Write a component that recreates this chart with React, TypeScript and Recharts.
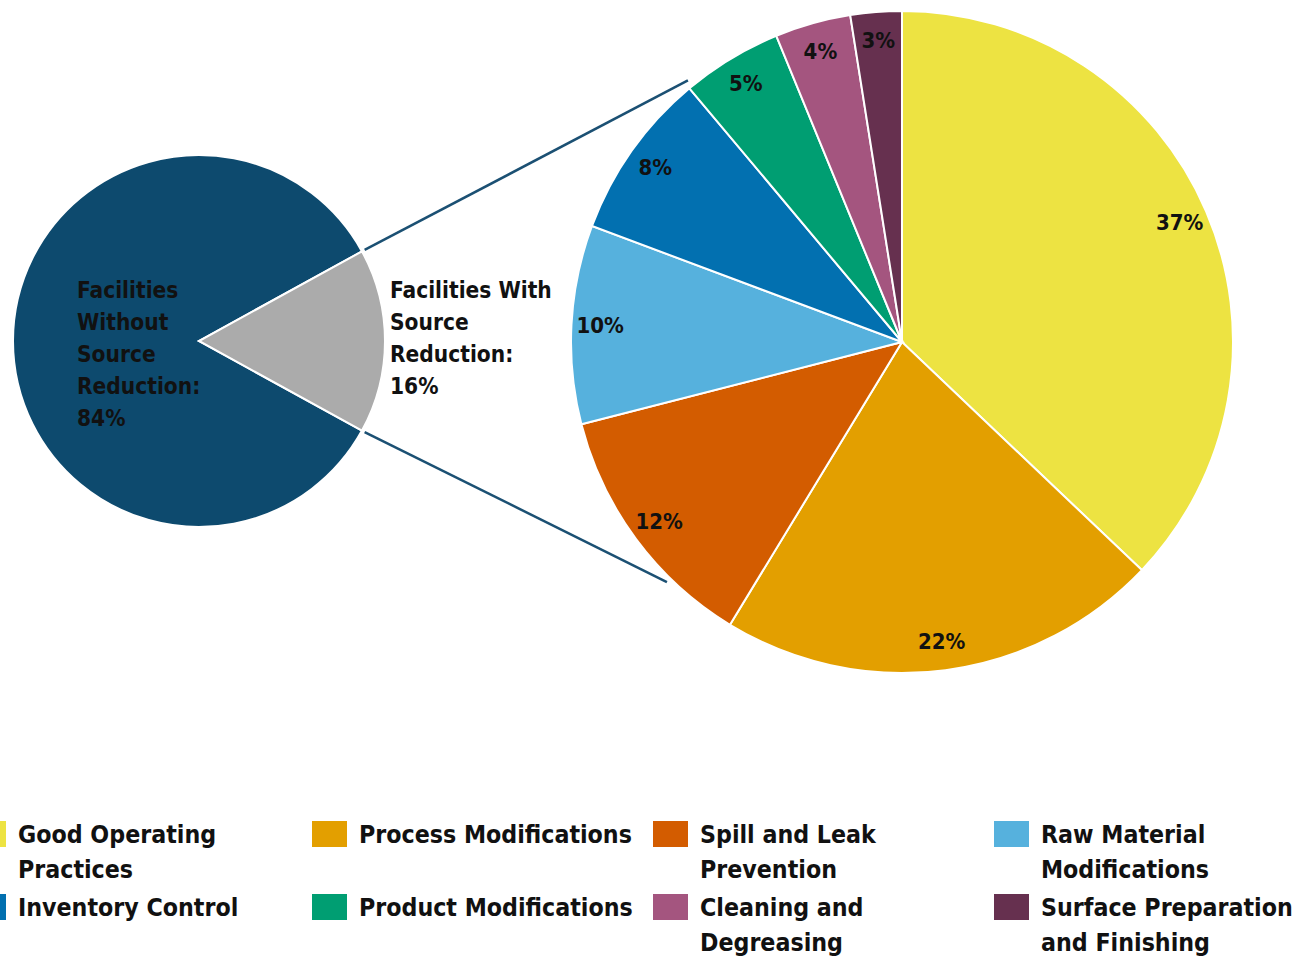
import { PieChart, Pie, Cell, Legend, Customized } from 'recharts';

// --- data ---
const overviewNames = ['Facilities Without Source Reduction', 'Facilities With Source Reduction'];
const overviewLabelLines = [
  ['Facilities', 'Without', 'Source', 'Reduction:'],
  ['Facilities With', 'Source', 'Reduction:'],
];
const overviewShares = [84, 16];
const overviewColors = ['#0D4A6E', '#ABABAB'];

const categories = [
  'Good Operating Practices',
  'Process Modifications',
  'Spill and Leak Prevention',
  'Raw Material Modifications',
  'Inventory Control',
  'Product Modifications',
  'Cleaning and Degreasing',
  'Surface Preparation and Finishing',
];
// slice sizes; labels show them rounded
const shares = [37.1, 21.6, 12.3, 9.7, 8.2, 4.9, 3.7, 2.5];
const colors = ['#EDE342', '#E39F00', '#D35C00', '#56B1DD', '#0270B0', '#009E72', '#A4557F', '#66304F'];

const overviewData = overviewNames.map((name, i) => ({ name, value: overviewShares[i] }));
const detailData = categories.map((name, i) => ({ name, value: shares[i] }));

// --- layout ---
const W = 1293;
const H = 956;
const L_CX = 199, L_CY = 341, L_R = 186;
const R_CX = 902, R_CY = 342, R_R = 331;
const FONT = '"DejaVu Sans Condensed", "DejaVu Sans", sans-serif';
const RAD = Math.PI / 180;

const polar = (cx: number, cy: number, r: number, deg: number) => ({
  x: cx + r * Math.cos(deg * RAD),
  y: cy - r * Math.sin(deg * RAD),
});

// half-angle of the "with source reduction" wedge, centred on 3 o'clock
const withHalf = (overviewShares[1] / (overviewShares[0] + overviewShares[1])) * 180;

const OverviewLabel = (props: any) => {
  const { cx, cy, index, value } = props;
  const lines = [...overviewLabelLines[index], `${value}%`];
  const x = index === 0 ? cx - 122 : cx + 191;
  const y0 = cy - 51;
  return (
    <text
      x={x}
      y={y0}
      fill="#111"
      fontFamily={FONT}
      fontStretch="condensed"
      fontWeight="bold"
      fontSize={22.5}
      textAnchor="start"
      dominantBaseline="central"
    >
      {lines.map((ln, i) => (
        <tspan key={i} x={x} y={y0 + i * 32}>{ln}</tspan>
      ))}
    </text>
  );
};

const DetailLabel = (props: any) => {
  const { cx, cy, midAngle, outerRadius, value } = props;
  const p = polar(cx, cy, outerRadius * 0.913, midAngle);
  return (
    <text
      x={p.x}
      y={p.y}
      fill="#111"
      fontFamily={FONT}
      fontStretch="condensed"
      fontWeight="bold"
      fontSize={22}
      textAnchor="middle"
      dominantBaseline="central"
    >
      {`${Math.round(value)}%`}
    </text>
  );
};

const Connectors = () => {
  const a = polar(L_CX, L_CY, L_R + 3, withHalf);
  const b = polar(R_CX, R_CY, R_R + 7, 129.3);
  const c = polar(L_CX, L_CY, L_R + 3, -withHalf);
  const d = polar(R_CX, R_CY, R_R + 5, 225.6);
  return (
    <g>
      <line x1={a.x} y1={a.y} x2={b.x} y2={b.y} stroke="#1B5073" strokeWidth={2.5} />
      <line x1={c.x} y1={c.y} x2={d.x} y2={d.y} stroke="#1B5073" strokeWidth={2.5} />
    </g>
  );
};

const LegendGrid = () => (
  <div style={{ position: 'relative', width: W, height: 140 }}>
    {categories.map((name, i) => {
      const col = i % 4;
      const row = Math.floor(i / 4);
      return (
        <div
          key={name}
          style={{
            position: 'absolute',
            left: -29 + col * 341,
            top: row * 73,
            display: 'flex',
            alignItems: 'flex-start',
          }}
        >
          <div style={{ width: 35, height: 26, background: colors[i], marginTop: 4, marginRight: 12, flex: 'none' }} />
          <div
            style={{
              width: col === 3 ? 252 : 290,
              fontFamily: FONT,
              fontStretch: 'condensed',
              fontWeight: 'bold',
              fontSize: 24.7,
              lineHeight: '35px',
              color: '#111',
            }}
          >
            {name}
          </div>
        </div>
      );
    })}
  </div>
);

export default function App() {
  return (
    <div style={{ position: 'absolute', left: 0, top: 0, width: W, height: H, background: '#fff', overflow: 'hidden' }}>
      <PieChart width={W} height={H} margin={{ top: 0, right: 0, bottom: 0, left: 0 }}>
        <Pie
          data={overviewData}
          dataKey="value"
          nameKey="name"
          cx={L_CX}
          cy={L_CY}
          outerRadius={L_R}
          startAngle={withHalf}
          endAngle={withHalf + 360}
          stroke="#fff"
          strokeWidth={2}
          label={OverviewLabel}
          labelLine={false}
          isAnimationActive={false}
        >
          {overviewData.map((d, i) => (
            <Cell key={d.name} fill={overviewColors[i]} />
          ))}
        </Pie>
        <Pie
          data={detailData}
          dataKey="value"
          nameKey="name"
          cx={R_CX}
          cy={R_CY}
          outerRadius={R_R}
          startAngle={90}
          endAngle={-270}
          stroke="#fff"
          strokeWidth={2}
          label={DetailLabel}
          labelLine={false}
          isAnimationActive={false}
        >
          {detailData.map((d, i) => (
            <Cell key={d.name} fill={colors[i]} />
          ))}
        </Pie>
        <Customized component={Connectors} />
        <Legend
          content={LegendGrid}
          wrapperStyle={{ position: 'absolute', left: 0, top: 817, width: W, height: 140 }}
        />
      </PieChart>
    </div>
  );
}
